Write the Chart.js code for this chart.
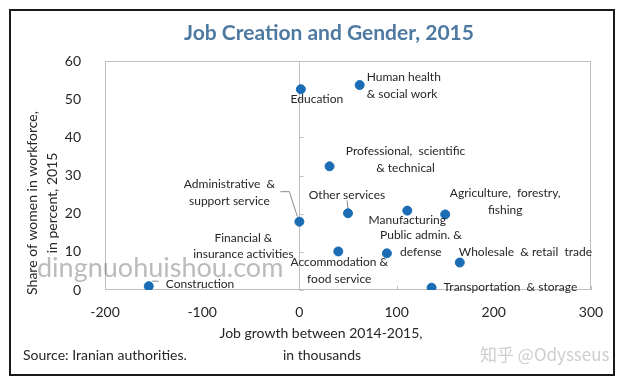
<!DOCTYPE html>
<html>
<head>
<meta charset="utf-8">
<script src="https://cdn.jsdelivr.net/npm/chart.js@4.4.0/dist/chart.umd.min.js"></script>
<style>
  html, body { margin: 0; padding: 0; background: #fff; }
  #wrap { width: 631px; height: 388px; position: relative; }
</style>
</head>
<body>
<div id="wrap"><canvas id="jobChart"></canvas></div>
<script>
// sectors, job growth 2014-2015 (thousands) and share of women (%)
const sectors = ['Construction', 'Education', 'Human health', 'Professional', 'Administrative',
  'Other services', 'Manufacturing', 'Agriculture', 'Accommodation', 'Public admin',
  'Wholesale', 'Transportation'];
const jobGrowth = [-155, 1.5, 62, 31, 0, 50, 111, 150, 40, 90, 165, 136];
const womenShare = [1, 52.6, 53.7, 32.4, 17.9, 20.1, 20.8, 19.8, 10.1, 9.6, 7.2, 0.6];
const xTicks = [-200, -100, 0, 100, 200, 300];
const yTicks = [0, 10, 20, 30, 40, 50, 60];

// label text for each point (lines), and how it sits next to the dot
const pointLabels = [
  ['Construction'], ['Education'], ['Human health', '& social work'],
  ['Professional,  scientific', '& technical'], ['Administrative  &', 'support service'],
  ['Other services'], ['Manufacturing'], ['Agriculture,  forestry,', 'fishing'],
  ['Accommodation &', 'food service'], ['Public admin. &', 'defense'],
  ['Wholesale  & retail  trade'], ['Transportation  & storage']
];
const labelPlace = [
  { dx: 17, dy: -2, align: 'left' },
  { dx: 16, dy: 10, align: 'center' },
  { dx: 7, dy: -8, align: 'left' },
  { dx: 76, dy: -15, align: 'center' },
  { dx: -70, dy: -38, align: 'center' },
  { dx: -1, dy: -18, align: 'center' },
  { dx: 0, dy: 10, align: 'center' },
  { dx: 60, dy: -21, align: 'center' },
  { dx: 1, dy: 11, align: 'center' },
  { dx: 34, dy: -18, align: 'center' },
  { dx: -1, dy: -10, align: 'left' },
  { dx: 12, dy: -1, align: 'left' }
];
// the financial sector label has no visible dot in the source
const financialNote = { x: 0, y: 10, lines: ['Financial &', 'insurance activities'], dx: -56, dy: -14 };

const FONT = 'Lato, "Open Sans", sans-serif';
const textColor = '#262626';
const frameColor = '#bfbfbf';

const extras = {
  id: 'extras',
  beforeDatasetsDraw(chart) {
    const { ctx, chartArea: a, scales: { x, y } } = chart;
    ctx.save();
    ctx.strokeStyle = frameColor;
    ctx.lineWidth = 1;
    ctx.strokeRect(a.left + 0.5, a.top + 0.5, a.right - a.left - 1, a.bottom - a.top - 1);
    const x0 = Math.round(x.getPixelForValue(0)) + 0.5;
    ctx.beginPath();
    ctx.moveTo(x0, a.top);
    ctx.lineTo(x0, a.bottom);
    yTicks.forEach(v => {
      const py = Math.round(y.getPixelForValue(v)) + 0.5;
      ctx.moveTo(x0, py);
      ctx.lineTo(x0 + 4, py);
    });
    xTicks.forEach(v => {
      const px = Math.round(x.getPixelForValue(v)) + 0.5;
      ctx.moveTo(px, a.bottom);
      ctx.lineTo(px, a.bottom - 4);
    });
    ctx.stroke();

    // leader lines
    ctx.strokeStyle = '#8c8c8c';
    const p = i => ({ x: x.getPixelForValue(jobGrowth[i]), y: y.getPixelForValue(womenShare[i]) });
    let d = p(4);
    ctx.beginPath();
    ctx.moveTo(d.x - 19, d.y - 30);
    ctx.lineTo(d.x - 10, d.y - 30);
    ctx.lineTo(d.x - 2, d.y - 5);
    d = p(5);
    ctx.moveTo(d.x, d.y - 4);
    ctx.lineTo(d.x - 1, d.y - 13);
    d = p(0);
    ctx.moveTo(d.x + 3, d.y - 5);
    ctx.lineTo(d.x + 10, d.y - 5);
    ctx.stroke();
    ctx.restore();
  },
  afterDraw(chart) {
    const { ctx, scales: { x, y } } = chart;
    ctx.save();
    // outer frame
    ctx.strokeStyle = '#1a1a1a';
    ctx.lineWidth = 2;
    ctx.strokeRect(10, 10, 604, 365);

    ctx.textBaseline = 'middle';
    ctx.fillStyle = '#4e7aa2';
    ctx.font = 'bold 21px ' + FONT;
    ctx.textAlign = 'center';
    ctx.fillText('Job Creation and Gender, 2015', 329, 33);

    ctx.fillStyle = textColor;
    ctx.font = '12px ' + FONT;
    const lh = 17;
    sectors.forEach((s, i) => {
      const px = x.getPixelForValue(jobGrowth[i]);
      const py = y.getPixelForValue(womenShare[i]);
      const pl = labelPlace[i];
      ctx.textAlign = pl.align;
      pointLabels[i].forEach((t, k) => ctx.fillText(t, px + pl.dx, py + pl.dy + k * lh));
    });
    ctx.textAlign = 'center';
    const fx = x.getPixelForValue(financialNote.x), fy = y.getPixelForValue(financialNote.y);
    financialNote.lines.forEach((t, k) => ctx.fillText(t, fx + financialNote.dx, fy + financialNote.dy + k * 16));

    // axis titles and source
    ctx.font = '14px ' + FONT;
    ctx.fillText('Job growth between 2014-2015,', 321, 333);
    ctx.fillText('in thousands', 322, 355);
    ctx.textAlign = 'left';
    ctx.fillText('Source: Iranian authorities.', 23, 355);
    ctx.save();
    ctx.translate(32, 203);
    ctx.rotate(-Math.PI / 2);
    ctx.textAlign = 'center';
    ctx.fillText('Share of women in workforce,', 0, 0);
    ctx.fillText('in percent, 2015', 0, 20);
    ctx.restore();

    // watermarks
    ctx.fillStyle = 'rgba(120,120,120,0.5)';
    ctx.font = '27px ' + FONT;
    ctx.textAlign = 'left';
    ctx.fillText('dingnuohuishou.com', 37, 268);
    ctx.fillStyle = 'rgba(200,200,200,0.9)';
    ctx.font = '17px "Noto Sans CJK SC", sans-serif';
    ctx.fillText('知乎 @Odysseus', 480, 355);
    ctx.restore();
  }
};

const ctx = document.getElementById('jobChart').getContext('2d');
new Chart(ctx, {
  type: 'scatter',
  data: {
    labels: sectors,
    datasets: [{
      data: jobGrowth.map((v, i) => ({ x: v, y: womenShare[i] })),
      backgroundColor: '#1a6cb5',
      borderColor: '#1a6cb5',
      pointRadius: 4.5,
      pointHoverRadius: 4.5
    }]
  },
  options: {
    responsive: true,
    maintainAspectRatio: false,
    animation: false,
    layout: { padding: { top: 61, right: 40, bottom: 58, left: 0 } },
    plugins: { legend: { display: false }, tooltip: { enabled: false }, title: { display: false } },
    scales: {
      x: {
        type: 'linear', min: -200, max: 300,
        afterFit: s => { s.height = 40; },
        afterBuildTicks: s => { s.ticks = xTicks.map(v => ({ value: v })); },
        grid: { display: false },
        border: { display: false },
        ticks: { padding: 6, color: textColor, font: { family: FONT, size: 14 } }
      },
      y: {
        type: 'linear', min: 0, max: 60,
        afterFit: s => { s.width = 105; },
        afterBuildTicks: s => { s.ticks = yTicks.map(v => ({ value: v })); },
        grid: { display: false },
        border: { display: false },
        ticks: { padding: 16, color: textColor, font: { family: FONT, size: 14 } }
      }
    }
  },
  plugins: [extras]
});
</script>
</body>
</html>
